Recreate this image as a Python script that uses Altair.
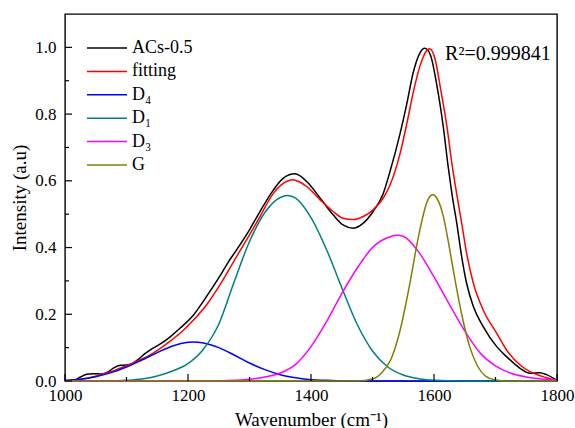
import altair as alt
import pandas as pd

# Raman spectrum of ACs-0.5 with its peak-fitted bands
series_names = ["ACs-0.5", "fitting", "D₄", "D₁", "D₃", "G"]
series_colors = ["#000000", "#ff0000", "#0000ff", "#008080", "#ff00ff", "#808000"]

acs_wn = [1000, 1015, 1025, 1035, 1045, 1060, 1070, 1080, 1090, 1100, 1110, 1120,
          1130, 1140, 1155, 1170, 1187, 1209, 1230, 1252, 1265, 1279, 1300, 1317,
          1339, 1355, 1374, 1393, 1415, 1436, 1452, 1469, 1485, 1501, 1517, 1528,
          1545, 1556, 1566, 1577, 1585, 1594, 1604, 1615, 1623, 1629, 1637, 1645,
          1653, 1664, 1680, 1702, 1718, 1740, 1756, 1772, 1783, 1800]
acs_int = [0.000, 0.002, 0.012, 0.020, 0.022, 0.021, 0.027, 0.040, 0.047, 0.048, 0.053, 0.066,
           0.082, 0.095, 0.111, 0.131, 0.158, 0.198, 0.253, 0.315, 0.355, 0.393, 0.453, 0.508,
           0.573, 0.608, 0.621, 0.598, 0.548, 0.498, 0.468, 0.458, 0.473, 0.508, 0.560, 0.625,
           0.743, 0.833, 0.923, 0.983, 0.997, 0.978, 0.893, 0.763, 0.643, 0.563, 0.473, 0.373,
           0.293, 0.223, 0.163, 0.103, 0.073, 0.038, 0.023, 0.025, 0.019, 0.002]

fit_wn = [1000, 1020, 1040, 1060, 1080, 1100, 1120, 1140, 1155, 1170, 1187, 1209,
          1230, 1252, 1279, 1300, 1317, 1339, 1360, 1370, 1380, 1393, 1415, 1436,
          1452, 1469, 1485, 1501, 1518, 1528, 1545, 1556, 1566, 1577, 1588, 1593,
          1602, 1610, 1621, 1629, 1637, 1645, 1653, 1664, 1680, 1702, 1718, 1740,
          1756, 1783, 1800]
fit_int = [0.000, 0.004, 0.010, 0.020, 0.031, 0.046, 0.062, 0.080, 0.098, 0.118, 0.143, 0.183,
           0.228, 0.288, 0.373, 0.438, 0.493, 0.563, 0.598, 0.603, 0.598, 0.583, 0.543, 0.508,
           0.488, 0.484, 0.493, 0.513, 0.550, 0.585, 0.683, 0.773, 0.863, 0.943, 0.990, 0.996,
           0.963, 0.883, 0.763, 0.653, 0.560, 0.473, 0.383, 0.293, 0.213, 0.143, 0.093, 0.048,
           0.028, 0.010, 0.002]

d4_wn = [1000, 1025, 1050, 1075, 1100, 1125, 1150, 1175, 1200, 1210, 1225, 1250,
         1275, 1300, 1325, 1350, 1375, 1400, 1425, 1450, 1800]
d4_int = [0.002, 0.005, 0.013, 0.025, 0.042, 0.063, 0.085, 0.105, 0.116, 0.117, 0.114, 0.100,
          0.078, 0.054, 0.034, 0.019, 0.010, 0.004, 0.002, 0.000, 0.000]

d1_wn = [1000, 1075, 1100, 1125, 1150, 1175, 1200, 1225, 1250, 1275, 1300, 1325,
         1350, 1362, 1375, 1400, 1425, 1450, 1475, 1500, 1525, 1550, 1575, 1600,
         1650, 1800]
d1_int = [0.000, 0.000, 0.002, 0.006, 0.015, 0.030, 0.052, 0.095, 0.170, 0.297, 0.418, 0.505,
          0.550, 0.556, 0.548, 0.490, 0.395, 0.280, 0.170, 0.090, 0.042, 0.018, 0.007, 0.002,
          0.000, 0.000]

d3_wn = [1000, 1240, 1275, 1300, 1325, 1350, 1375, 1400, 1425, 1450, 1475, 1500,
         1525, 1540, 1550, 1575, 1600, 1625, 1650, 1675, 1700, 1725, 1750, 1775, 1800]
d3_int = [0.000, 0.000, 0.002, 0.005, 0.012, 0.024, 0.050, 0.103, 0.177, 0.262, 0.338, 0.400,
          0.430, 0.437, 0.434, 0.387, 0.312, 0.230, 0.150, 0.084, 0.045, 0.023, 0.012, 0.006,
          0.003]

g_wn = [1000, 1475, 1500, 1515, 1530, 1545, 1560, 1575, 1590, 1598, 1605, 1615,
        1625, 1635, 1645, 1658, 1670, 1685, 1700, 1720, 1800]
g_int = [0.000, 0.000, 0.006, 0.025, 0.065, 0.153, 0.285, 0.435, 0.543, 0.558, 0.547, 0.495,
         0.400, 0.295, 0.200, 0.103, 0.048, 0.013, 0.003, 0.000, 0.000]

x_major = [1000, 1200, 1400, 1600, 1800]
x_minor = [1100, 1300, 1500, 1700]
y_major = [0.0, 0.2, 0.4, 0.6, 0.8, 1.0]
y_minor = [0.1, 0.3, 0.5, 0.7, 0.9]

r2_label = ["R²=0.999841"]
r2_wn = [1618]
r2_int = [0.962]

FONT = "Liberation Serif"
W, H = 492, 367

frames = []
for name, wn, val in [
    ("ACs-0.5", acs_wn, acs_int),
    ("fitting", fit_wn, fit_int),
    ("D₄", d4_wn, d4_int),
    ("D₁", d1_wn, d1_int),
    ("D₃", d3_wn, d3_int),
    ("G", g_wn, g_int),
]:
    frames.append(pd.DataFrame({"series": name, "wn": wn, "intensity": val}))
spectra = pd.concat(frames, ignore_index=True)

x_scale = alt.Scale(domain=[1000, 1800], nice=False, zero=False)
y_scale = alt.Scale(domain=[0, 1.1], nice=False, zero=True)

x_axis = alt.Axis(title="Wavenumber (cm⁻¹)", values=x_major, format="d", labelFlush=False,
                  ticks=False, domain=False, grid=False, labelPadding=6, titlePadding=7)
y_axis = alt.Axis(title="Intensity (a.u)", values=y_major, format=".1f", labelFlush=False,
                  ticks=False, domain=False, grid=False, labelPadding=9, titlePadding=5)

X = alt.X("wn:Q", scale=x_scale, axis=x_axis)
Y = alt.Y("intensity:Q", scale=y_scale, axis=y_axis)

# legend key: a long horizontal stroke on a small symbol footprint keeps rows compact
lines = alt.Chart(spectra).mark_line(strokeWidth=1.5, interpolate="monotone").encode(
    x=X,
    y=Y,
    color=alt.Color("series:N", sort=series_names,
                    scale=alt.Scale(domain=series_names, range=series_colors),
                    legend=alt.Legend(title=None, orient="none", legendX=33, legendY=25,
                                      symbolType="M-4,0H4", symbolSize=100,
                                      symbolStrokeWidth=1.5, labelFont=FONT,
                                      labelFontSize=18, labelColor="black",
                                      rowPadding=5.4, labelOffset=16, padding=0)),
    detail="series:N",
)

# inward tick marks on the bottom and left edges
def xticks(vals, length):
    return alt.Chart(pd.DataFrame({"wn": vals})).mark_rule(color="black", strokeWidth=1.2).encode(
        x=X, y=alt.value(H), y2=alt.value(H - length))

def yticks(vals, length):
    return alt.Chart(pd.DataFrame({"intensity": vals})).mark_rule(color="black", strokeWidth=1.2).encode(
        y=Y, x=alt.value(0), x2=alt.value(length))

r2 = alt.Chart(pd.DataFrame({"label": r2_label, "wn": r2_wn, "intensity": r2_int})).mark_text(
    font=FONT, fontSize=20, align="left", baseline="alphabetic", color="black"
).encode(x=X, y=Y, text="label:N")

chart = alt.layer(
    lines, xticks(x_major, 7), xticks(x_minor, 4), yticks(y_major, 7), yticks(y_minor, 4), r2
).properties(
    width=W, height=H,
    background="white",
    autosize=alt.AutoSizeParams(type="none"),
    padding={"left": 65, "top": 14, "right": 18, "bottom": 47},
).configure_view(
    stroke="black", strokeWidth=1.4
).configure_axis(
    labelFont=FONT, labelFontSize=17, labelColor="black",
    titleFont=FONT, titleFontSize=19, titleFontWeight="normal", titleColor="black"
)

chart.save("out.html", embed_options={"renderer": "svg", "actions": False})
